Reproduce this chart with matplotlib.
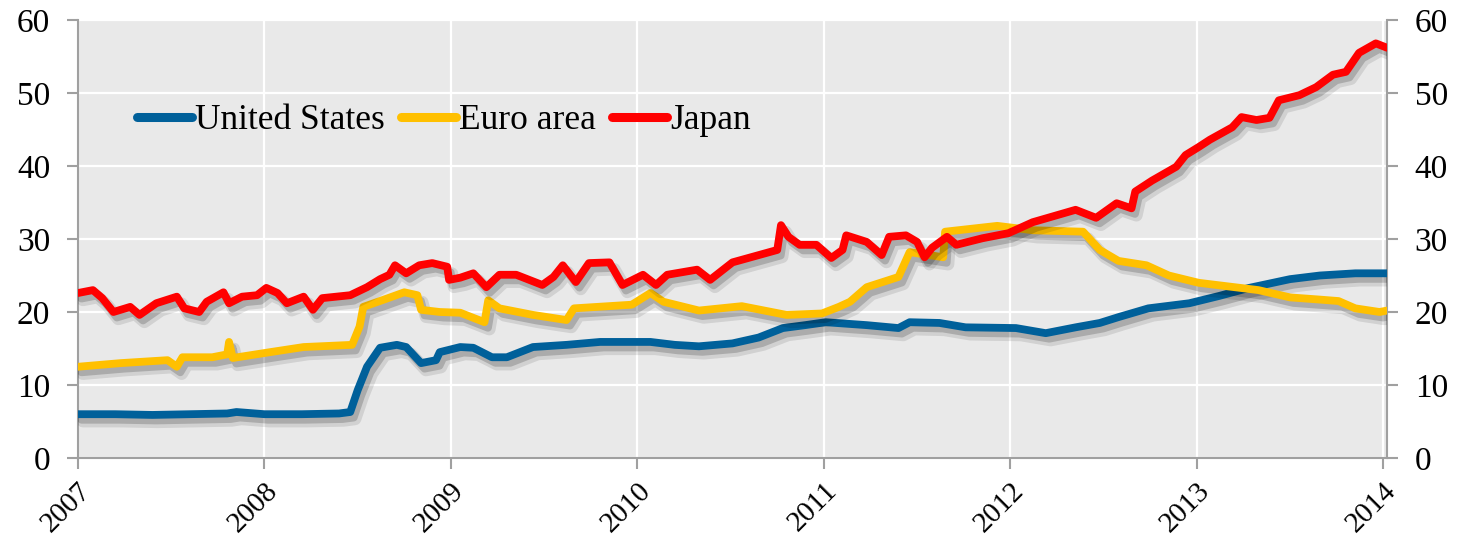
import matplotlib
matplotlib.use("Agg")
import matplotlib.pyplot as plt
import matplotlib.patheffects as pe

# ---- data (decimal years) ----
us_x = [2007.0, 2007.2, 2007.4, 2007.6, 2007.8, 2007.85, 2008.0, 2008.2, 2008.4, 2008.46,
        2008.5, 2008.55, 2008.62, 2008.71, 2008.76, 2008.84, 2008.92, 2008.94, 2009.05, 2009.12,
        2009.22, 2009.3, 2009.44, 2009.62, 2009.8, 2010.07, 2010.2, 2010.33, 2010.51, 2010.65,
        2010.78, 2010.9, 2011.01, 2011.23, 2011.4, 2011.46, 2011.62, 2011.76, 2012.03, 2012.19,
        2012.35, 2012.48, 2012.58, 2012.74, 2012.96, 2013.12, 2013.28, 2013.5, 2013.66, 2013.85,
        2014.02]
us_y = [6.0, 6.0, 5.9, 6.0, 6.1, 6.3, 6.0, 6.0, 6.1, 6.3,
        9.3, 12.5, 15.1, 15.5, 15.2, 13.0, 13.4, 14.5, 15.2, 15.1,
        13.8, 13.8, 15.2, 15.5, 15.9, 15.9, 15.5, 15.3, 15.7, 16.5,
        17.8, 18.2, 18.6, 18.2, 17.8, 18.6, 18.5, 17.9, 17.8, 17.1,
        17.9, 18.5, 19.3, 20.5, 21.2, 22.2, 23.3, 24.5, 25.0, 25.3,
        25.3]

ea_x = [2007.0, 2007.23, 2007.48, 2007.53, 2007.56, 2007.72, 2007.8, 2007.81, 2007.83, 2008.03,
        2008.21, 2008.47, 2008.51, 2008.53, 2008.63, 2008.75, 2008.82, 2008.84, 2008.94, 2009.05,
        2009.12, 2009.18, 2009.2, 2009.26, 2009.44, 2009.62, 2009.66, 2009.97, 2010.07, 2010.14,
        2010.33, 2010.56, 2010.8, 2010.99, 2011.08, 2011.14, 2011.23, 2011.4, 2011.46, 2011.64,
        2011.65, 2011.93, 2012.12, 2012.39, 2012.48, 2012.58, 2012.73, 2012.85, 2013.01, 2013.17,
        2013.33, 2013.5, 2013.66, 2013.76, 2013.85, 2013.98, 2014.02]
ea_y = [12.5, 13.0, 13.4, 12.5, 13.8, 13.8, 14.2, 15.9, 13.7, 14.5,
        15.2, 15.5, 18.0, 20.7, 21.6, 22.7, 22.3, 20.3, 20.0, 19.9,
        19.2, 18.6, 21.6, 20.5, 19.6, 18.9, 20.5, 21.0, 22.6, 21.4,
        20.2, 20.8, 19.6, 19.8, 20.7, 21.4, 23.4, 24.8, 28.2, 27.5,
        31.0, 31.8, 31.2, 31.0, 28.5, 27.0, 26.4, 25.0, 24.0, 23.5,
        23.0, 22.0, 21.7, 21.5, 20.5, 20.0, 20.2]

jp_x = [2007.0, 2007.08, 2007.13, 2007.19, 2007.28, 2007.33, 2007.42, 2007.53, 2007.57, 2007.65,
        2007.69, 2007.78, 2007.81, 2007.88, 2007.96, 2008.01, 2008.07, 2008.12, 2008.21, 2008.26,
        2008.31, 2008.46, 2008.55, 2008.62, 2008.67, 2008.7, 2008.76, 2008.83, 2008.9, 2008.98,
        2008.99, 2009.05, 2009.12, 2009.19, 2009.26, 2009.35, 2009.49, 2009.55, 2009.6, 2009.67,
        2009.74, 2009.85, 2009.92, 2010.03, 2010.1, 2010.16, 2010.32, 2010.39, 2010.51, 2010.75,
        2010.77, 2010.81, 2010.87, 2010.96, 2011.04, 2011.1, 2011.12, 2011.23, 2011.31, 2011.35,
        2011.44, 2011.5, 2011.54, 2011.58, 2011.66, 2011.71, 2011.85, 2011.99, 2012.12, 2012.35,
        2012.46, 2012.57, 2012.65, 2012.67, 2012.76, 2012.89, 2012.94, 2013.01, 2013.07, 2013.19,
        2013.24, 2013.32, 2013.39, 2013.44, 2013.55, 2013.64, 2013.73, 2013.8, 2013.87, 2013.96,
        2014.02]
jp_y = [22.6, 23.0, 21.9, 20.0, 20.7, 19.6, 21.2, 22.1, 20.5, 20.0,
        21.4, 22.7, 21.2, 22.1, 22.3, 23.3, 22.6, 21.2, 22.1, 20.3,
        21.9, 22.3, 23.4, 24.5, 25.1, 26.4, 25.3, 26.4, 26.7, 26.2,
        24.4, 24.7, 25.3, 23.4, 25.1, 25.1, 23.7, 24.8, 26.4, 24.1,
        26.7, 26.8, 23.7, 25.1, 23.7, 25.1, 25.8, 24.4, 26.8, 28.5,
        31.9, 30.3, 29.2, 29.2, 27.4, 28.5, 30.5, 29.6, 27.8, 30.3,
        30.5, 29.6, 27.5, 28.8, 30.3, 29.2, 30.1, 30.8, 32.3, 34.0,
        32.9, 34.9, 34.2, 36.5, 38.0, 39.9, 41.5, 42.6, 43.6, 45.3,
        46.7, 46.3, 46.6, 49.0, 49.7, 50.8, 52.5, 52.9, 55.5, 56.8,
        56.2]

series_names = ["United States", "Euro area", "Japan"]
series_colors = ["#00609a", "#ffc000", "#ff0000"]
year_ticks = [2007, 2008, 2009, 2010, 2011, 2012, 2013, 2014]
y_ticks = [0, 10, 20, 30, 40, 50, 60]

plt.rcParams['font.family'] = ['Liberation Serif', 'DejaVu Serif']

fig = plt.figure(figsize=(14.58, 5.40), dpi=100)
ax = fig.add_axes([78 / 1458, 82 / 540, (1387 - 78) / 1458, (458 - 20) / 540])
ax.set_facecolor('#e9e9e9')

shadow = [pe.SimpleLineShadow(offset=(3.5, -5), shadow_color='black', alpha=0.10, linewidth=9),
          pe.SimpleLineShadow(offset=(2.5, -4), shadow_color='black', alpha=0.18),
          pe.Normal()]

for xs, ys, name, col in zip([us_x, ea_x, jp_x], [us_y, ea_y, jp_y], series_names, series_colors):
    ax.plot(xs, ys, color=col, lw=5.6, label=name, solid_capstyle='round',
            solid_joinstyle='round', path_effects=shadow, zorder=3)

ax.set_xlim(2007, 2014.02)
ax.set_ylim(0, 60)
ax.set_xticks(year_ticks)
ax.set_xticklabels([str(y) for y in year_ticks], rotation=45, ha='right', va='top',
                   rotation_mode='anchor')
ax.set_yticks(y_ticks)
ax.grid(True, color='white', lw=1.6, zorder=0)
ax.set_axisbelow(True)

for s in ['left', 'right', 'bottom']:
    ax.spines[s].set_color('#a0a0a0')
    ax.spines[s].set_linewidth(1.5)
ax.spines['top'].set_visible(False)

ax.tick_params(axis='both', colors='#a0a0a0', length=8, width=1.5, labelcolor='black',
               direction='out')
ax.tick_params(axis='y', right=True, labelright=True, pad=12, labelsize=24)
ax.tick_params(axis='x', pad=6, labelsize=21)

leg = ax.legend(loc='center left', bbox_to_anchor=(0.045, 0.77), ncol=3, frameon=False,
                fontsize=25.5, handlelength=1.55, handletextpad=0.1, columnspacing=0.45,
                borderpad=0, borderaxespad=0)
for h in leg.get_lines():
    h.set_linewidth(6.5)
    h.set_path_effects([])
    h.set_solid_capstyle('round')

fig.savefig('out.png', dpi=100)
